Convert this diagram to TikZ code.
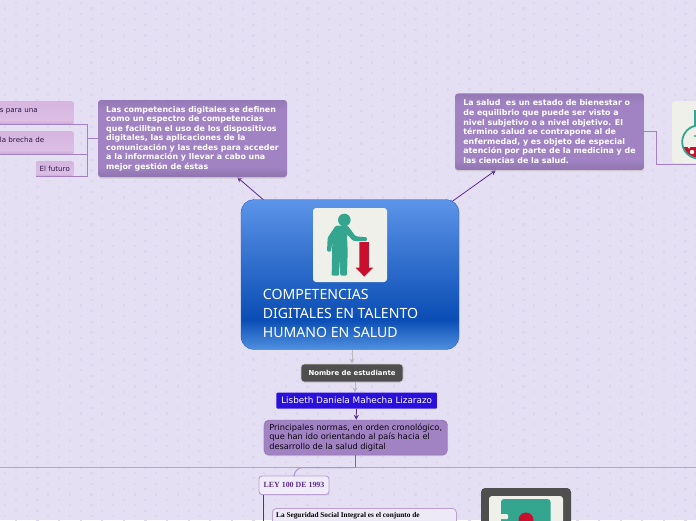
\documentclass[tikz,border=0pt]{standalone}
\usepackage{fontspec}
\setmainfont{DejaVu Sans}
\newfontfamily\titlefont{Noto Sans}
\newfontfamily\slabfont{Liberation Serif}
\usepackage{xcolor}
\usepackage{tikz}
\usetikzlibrary{arrows.meta,positioning,calc,shadows,backgrounds}
\definecolor{paper}{HTML}{E5DFF4}
\definecolor{speck}{HTML}{DDD6EE}
\definecolor{plum}{HTML}{5B2C8D}
\definecolor{lilac}{HTML}{A183C3}
\definecolor{branch}{HTML}{BBA0D4}
\definecolor{cardwhite}{HTML}{F0F0EB}
\definecolor{iconteal}{HTML}{34A58E}
\definecolor{iconred}{HTML}{C8102E}
\definecolor{slate}{HTML}{4F4F4F}
\definecolor{bluepen}{HTML}{1F5FCF}
\definecolor{barblue}{HTML}{2A10DC}
\definecolor{blueend}{HTML}{5090E0}
\definecolor{bluedeep}{HTML}{0A4DB4}
\definecolor{bluetop}{HTML}{5C94E8}
\definecolor{lilaclow}{HTML}{8F74AE}
\definecolor{lilactop}{HTML}{9479B5}
\definecolor{pinklow}{HTML}{C9A8D4}
\definecolor{pinkmid}{HTML}{DCBDE4}
\definecolor{pinktop}{HTML}{D6B6DF}
\pgfdeclareverticalshading{centralshade}{100bp}{color(0bp)=(blueend);color(25bp)=(blueend);color(35bp)=(bluedeep);color(75bp)=(bluetop);color(100bp)=(bluetop)}
\pgfdeclareverticalshading{lilacshade}{100bp}{color(0bp)=(lilaclow);color(25bp)=(lilaclow);color(32bp)=(lilac);color(68bp)=(lilac);color(75bp)=(lilactop);color(100bp)=(lilactop)}
\pgfdeclareverticalshading{pinkshade}{100bp}{color(0bp)=(pinklow);color(25bp)=(pinklow);color(34bp)=(pinkmid);color(75bp)=(pinktop);color(100bp)=(pinktop)}
\begin{document}
\begin{tikzpicture}[x=1pt,y=-1pt,node distance=10pt]
    \tikzset{
      mainbox/.style={rounded corners=13pt,draw=bluepen,shade,shading=centralshade,minimum width=218pt,minimum height=150pt},
      infobox/.style={rounded corners=3pt,shade,shading=lilacshade,drop shadow={shadow xshift=0pt,shadow yshift=-1.5pt,opacity=.6,fill=black!25},align=left,text=white,inner sep=0pt,font=\fontsize{7.9}{9.55}\selectfont\bfseries,execute at begin node=\rule{0pt}{8pt}},
      pinkbox/.style={rounded corners=2pt,shade,shading=pinkshade,text=plum!50!black,font=\fontsize{7.1}{8}\selectfont},
      namebox/.style={rounded corners=3pt,fill=slate,draw=black!20,line width=.8pt,text=white,font=\fontsize{6.9}{8}\selectfont\bfseries,minimum width=102pt,minimum height=18pt,inner sep=0pt},
      personbox/.style={rounded corners=1pt,fill=barblue,text=white,font=\fontsize{8.85}{9}\selectfont,minimum width=160.5pt,minimum height=16pt,inner sep=0pt},
      normbox/.style={rounded corners=5pt,fill=lilac,draw=plum!70,align=left,text=black!90!plum,inner sep=0pt,minimum width=183.5pt,minimum height=35pt,font=\fontsize{8.25}{9.5}\selectfont,drop shadow={shadow xshift=0pt,shadow yshift=-1.2pt,opacity=.4,fill=black!40}},
      lawbox/.style={rounded corners=3pt,fill=paper!60!white,draw=branch,line width=.9pt,text=plum,font=\fontsize{7.9}{9}\selectfont\slabfont\bfseries,minimum width=70pt,minimum height=18.5pt,inner sep=0pt,drop shadow={shadow xshift=0pt,shadow yshift=-1pt,opacity=.35,fill=black!40}},
      textbox/.style={rounded corners=4pt,fill=paper!70!white,draw=branch,line width=.8pt,inner sep=0pt},
      imagecard/.style={rounded corners=3pt,fill=cardwhite,minimum width=74pt,minimum height=74pt,inner sep=0pt},
      arrow/.style={-{Stealth[length=5pt,width=5pt]},draw=plum,line width=.8pt},
      softarrow/.style={-{Stealth[length=5pt,width=5pt]},draw=black!28,line width=.7pt},
      link/.style={draw=lilac,line width=1pt},
      darklink/.style={draw=plum,line width=1pt}
    }
    \useasboundingbox (0,0) rectangle (696,520);

    \node[mainbox] (central) at (350,274.5) {};
    \node[imagecard,below=8.5pt of central.north] (card) {};
    \node[below=6.5pt of card.south,xshift=-9.5pt,align=left,text=white,inner sep=0pt,font=\fontsize{14.1}{19}\selectfont\titlefont] (title) {COMPETENCIAS\\DIGITALES EN TALENTO\\HUMANO EN SALUD};

    \node[infobox,minimum width=189pt,minimum height=77pt] (compet) at (192.5,138.5) {Las competencias digitales se definen\\como un espectro de competencias\\que facilitan el uso de los dispositivos\\digitales, las aplicaciones de la\\comunicación y las redes para acceder\\a la información y llevar a cabo una\\mejor gestión de éstas};
    \node[infobox,minimum width=189pt,minimum height=76.5pt] (salud) at (549.5,131.7) {La salud\ \ es un estado de bienestar o\\de equilibrio que puede ser visto a\\nivel subjetivo o a nivel objetivo. El\\término salud se contrapone al de\\enfermedad, y es objeto de especial\\atención por parte de la medicina y de\\las ciencias de la salud.};

    \node[pinkbox,anchor=north east,text width=70pt,inner sep=4pt,text height=7.5pt,text depth=7.5pt] (pinkone) at (74,101) {s para una};
    \node[pinkbox,anchor=north east,text width=70pt,inner sep=4pt,text height=7.5pt,text depth=7.5pt] (pinktwo) at (74,131) {la brecha de};
    \node[pinkbox,anchor=north east,minimum width=38pt,minimum height=15pt,inner sep=0pt] (pinkthree) at (74,161) {El futuro};

    \node[namebox] (nombre) at (352,373) {Nombre de estudiante};
    \node[personbox,below=10pt of nombre,xshift=4.7pt] (lisbeth) {Lisbeth Daniela Mahecha Lizarazo};
    \node[normbox,below=11pt of lisbeth,xshift=-1pt] (normas) {Principales normas, en orden cronológico,\\que han ido orientando al país hacia el\\desarrollo de la salud digital};
    \node[lawbox] (ley) at (294,485.2) {LEY 100 DE 1993};
    \node[textbox,anchor=north west,minimum width=184pt,minimum height=24pt] (seguridad) at (272,508) {};
    \node[anchor=base west,inner sep=0pt,font=\fontsize{7.3}{8}\selectfont\slabfont\bfseries] (seguridadtext) at (276,517.5) {La Seguridad Social Integral es el conjunto de};

    \coordinate (mainleft) at (0,467.5);
    \coordinate (mainright) at (696,467.5);
    \coordinate (competjoin) at (87,138.5);
    \coordinate (saludout) at (656,131.5);
    \coordinate (saludin) at (696,164);
    \coordinate (leydown) at (263.3,525);
    \coordinate (namedrop) at (355,0);

    \begin{scope}[on background layer]
      \fill[paper] (0,0) rectangle (696,520);
      \foreach \row in {0,...,96}{
        \foreach \col in {0,...,32}{
          \pgfmathsetmacro{\dotx}{5+21.6*\col+10.8*mod(\row+1,2)}
          \fill[speck] (\dotx-1,3+5.4*\row-1) rectangle ++(2.2,2.2);
        }
      }
      \draw[arrow] (central.center) -- (compet);
      \draw[arrow] (central.center) -- (salud);
    \end{scope}

    \draw[softarrow] (central.south -| nombre) -- (nombre);
    \draw[softarrow] (nombre.south -| namedrop) -- (lisbeth.north -| namedrop);
    \draw[arrow] (lisbeth) -- (normas);

    \draw[link] (compet.west |- competjoin) -- (competjoin);
    \draw[link] (pinkone.south east) -- (pinkone.south east -| competjoin) -- (pinkthree.south east -| competjoin) -- (pinkthree.south west);
    \draw[link] (pinktwo.south east) -- (pinktwo.south east -| competjoin);
    \draw[link] (pinkone.south west) -- (pinkone.south east);
    \draw[link] (pinktwo.south west) -- (pinktwo.south east);
    \draw[link] (salud.east |- saludout) -- (saludout) -- (saludout |- saludin) -- (saludin);

    \draw[draw=branch,line width=1.4pt] (mainleft) -- (mainright);
    \draw[draw=plum!75,line width=1pt] (normas) -- (normas.south |- mainleft);
    \draw[draw=plum!50,line width=1pt,rounded corners=9pt] (normas.south |- mainleft) -- (294,467.5) -- (ley.north);
    \draw[darklink] (ley.south -| leydown) -- (leydown);

    % person with arrow
    \begin{scope}[shift={(305,205)},x=.3333pt,y=-.3333pt]
      \fill[iconteal] (118,45) circle (6.3pt);
      \fill[iconteal,rounded corners=1.2pt] (92,62) -- (128,62) -- (152,94) -- (186,97) -- (186,108) -- (145,108) -- (126,88) -- (128,140) -- (126,212) -- (106,212) -- (104,160) -- (102,212) -- (80,212) -- (82,110) -- (78,140) -- (66,140) -- (68,98) -- cycle;
      \fill[iconred] (163,111) -- (192,111) -- (192,188) -- (205,188) -- (178,215) -- (152,188) -- (163,188) -- cycle;
    \end{scope}

    % flask
    \fill[cardwhite,rounded corners=3pt] (672,101) rectangle (710,163);
    \begin{scope}
      \clip (698.7,142) circle (16pt);
      \fill[iconred] (680,147) rectangle (720,160);
      \fill[white] (692,152) circle (2.2pt);
      \fill[white] (689,147.5) circle (1.1pt);
    \end{scope}
    \draw[iconteal,line width=1.8pt] (698.7,142) circle (16.5pt);
    \fill[cardwhite] (695.5,120) rectangle (702,129);
    \draw[iconteal,line width=1.6pt] (695,110) -- (695,126);
    \fill[iconteal] (695,136) circle (1.2pt);

    % bottom right card
    \fill[slate,rounded corners=4pt] (481,488) rectangle (571,540);
    \fill[cardwhite,rounded corners=3pt] (489,496) rectangle (563,560);
    \fill[iconteal,rounded corners=3pt] (501,499) rectangle (550.5,560);
    \fill[cardwhite,rounded corners=1pt] (500,514) rectangle (508,519);
    \fill[iconred] (526,520) circle (7.5pt);
\end{tikzpicture}
\end{document}
